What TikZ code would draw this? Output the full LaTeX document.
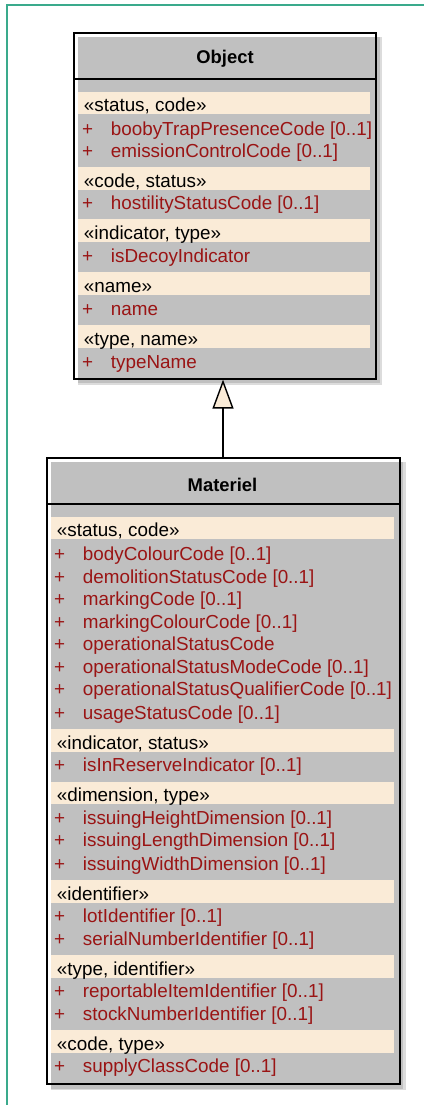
\documentclass[tikz,border=0pt]{standalone}
\usepackage{fontspec}
\setmainfont{Liberation Sans}
\usetikzlibrary{arrows.meta}

\definecolor{framegreen}{HTML}{3AAA8C}
\definecolor{classgray}{HTML}{C0C0C0}
\definecolor{fringegray}{HTML}{DCDCDC}
\definecolor{stereobg}{HTML}{FAEBD7}
\definecolor{attrred}{HTML}{9A1414}

\begin{document}
\begin{tikzpicture}[x=1pt, y=-1pt,
  txt/.style={inner sep=0pt, anchor=west, text height=13.5pt, text depth=3.8pt,
              font=\fontsize{18.85}{22}\selectfont},
  stereo/.style={txt, text=black},
  attr/.style={txt, text=attrred},
  classtitle/.style={inner sep=0pt, font=\fontsize{18.4}{22}\selectfont\bfseries},
  classbox/.style={draw=black, line width=1.6pt, inner sep=0pt, anchor=north west},
  separator/.style={draw=black, line width=1.6pt},
  band/.style={fill=stereobg},
  generalization/.style={draw=black, line width=1.4pt,
    -{Triangle[length=29pt, width=21pt, fill=stereobg]}}]

\useasboundingbox (0,0) rectangle (423,1105);

% diagram frame
\draw[framegreen, line width=2pt] (7,1110) -- (7,5.5) -- (430,5.5);

% ---------------- class Object ----------------
\fill[fringegray] (78,37) rectangle (382,385);
\fill[classgray] (78,37) rectangle (380,383);
\node[classbox, minimum width=302pt, minimum height=346pt] (object) at (73,32) {};
\draw[separator] (73,79) -- (375,79);
\node[classtitle] (object-title) at (225,59) {Object};

\foreach \n/\t/\b/\s in {1/92/114/{«status, code»},
                          2/167/190/{«code, status»},
                          3/219/242/{«indicator, type»},
                          4/272/295/{«name»},
                          5/325/348/{«type, name»}} {
  \fill[band] (78,\t) rectangle (370,\b);
  \node[stereo] (object-s\n) at (83.7,\b-7) {\s};
}
\foreach \n/\y/\a in {1/130.5/{boobyTrapPresenceCode [0..1]},
                      2/152.5/{emissionControlCode [0..1]},
                      3/204.5/{hostilityStatusCode [0..1]},
                      4/257.5/{isDecoyIndicator},
                      5/310.5/{name},
                      6/363.5/{typeName}} {
  \node[attr] (object-p\n) at (82,\y) {+};
  \node[attr] (object-a\n) at (110.7,\y) {\a};
}

% ---------------- class Materiel ----------------
\fill[fringegray] (51,462) rectangle (406,1090);
\fill[classgray] (51,462) rectangle (403,1089);
\node[classbox, minimum width=353pt, minimum height=626pt] (materiel) at (46,457) {};
\draw[separator] (46,504) -- (399,504);
\node[classtitle] (materiel-title) at (222.5,485) {Materiel};

\foreach \n/\t/\b/\s in {1/517/539/{«status, code»},
                          2/729/752/{«indicator, status»},
                          3/782/804/{«dimension, type»},
                          4/880/903/{«identifier»},
                          5/955/978/{«type, identifier»},
                          6/1030/1053/{«code, type»}} {
  \fill[band] (51,\t) rectangle (394,\b);
  \node[stereo] (materiel-s\n) at (56.7,\b-7) {\s};
}
\foreach \n/\y/\a in {1/555.5/{bodyColourCode [0..1]},
                      2/578.5/{demolitionStatusCode [0..1]},
                      3/600.5/{markingCode [0..1]},
                      4/623.5/{markingColourCode [0..1]},
                      5/645.5/{operationalStatusCode},
                      6/668.5/{operationalStatusModeCode [0..1]},
                      7/690.5/{operationalStatusQualifierCode [0..1]},
                      8/714.5/{usageStatusCode [0..1]},
                      9/766.5/{isInReserveIndicator [0..1]},
                      10/819.5/{issuingHeightDimension [0..1]},
                      11/841.5/{issuingLengthDimension [0..1]},
                      12/865.5/{issuingWidthDimension [0..1]},
                      13/917.5/{lotIdentifier [0..1]},
                      14/940.5/{serialNumberIdentifier [0..1]},
                      15/992.5/{reportableItemIdentifier [0..1]},
                      16/1015.5/{stockNumberIdentifier [0..1]},
                      17/1067.5/{supplyClassCode [0..1]}} {
  \node[attr] (materiel-p\n) at (54,\y) {+};
  \node[attr] (materiel-a\n) at (82.7,\y) {\a};
}

% ---------------- generalization Materiel -> Object ----------------
\coordinate (genx) at (223,0);
\draw[generalization] (genx |- materiel.north) -- (genx |- object.south);

\end{tikzpicture}
\end{document}
